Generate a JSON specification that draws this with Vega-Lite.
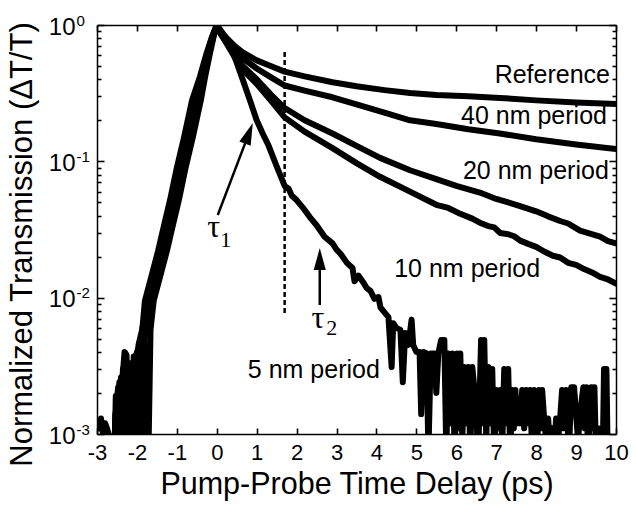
{
  "$schema": "https://vega.github.io/schema/vega-lite/v6.json",
  "width": 519,
  "height": 409,
  "autosize": {"type": "none"},
  "padding": {"left": 97, "top": 25, "right": 20, "bottom": 72},
  "background": "white",
  "config": {
    "view": {"stroke": null},
    "font": "Liberation Sans",
    "axis": {
      "grid": false,
      "domainColor": "black",
      "domainWidth": 1.5,
      "tickColor": "black",
      "tickWidth": 1.6,
      "labelColor": "black",
      "titleColor": "black",
      "labelFont": "Liberation Sans",
      "titleFont": "Liberation Sans",
      "titleFontWeight": "normal",
      "labelOverlap": false,
      "labelBound": false,
      "labelFlush": false
    }
  },
  "datasets": {
    "curves": [
      {"s": "ref", "t": -2.45, "v": 0.0006}, {"s": "ref", "t": -2.4, "v": 0.0019}, {"s": "ref", "t": -2.34, "v": 0.0009}, {"s": "ref", "t": -2.3, "v": 0.0028}, {"s": "ref", "t": -2.25, "v": 0.0012}, {"s": "ref", "t": -2.18, "v": 0.003}, {"s": "ref", "t": -2.12, "v": 0.0008}, {"s": "ref", "t": -2.06, "v": 0.0034}, {"s": "ref", "t": -2.0, "v": 0.004}, {"s": "ref", "t": -1.94, "v": 0.001}, {"s": "ref", "t": -1.88, "v": 0.0046}, {"s": "ref", "t": -1.82, "v": 0.0055}, {"s": "ref", "t": -1.76, "v": 0.0006}, {"s": "ref", "t": -1.72, "v": 0.0005}, {"s": "ref", "t": -1.66, "v": 0.0058},
      {"s": "ref", "t": -1.58, "v": 0.0095}, {"s": "ref", "t": -1.4, "v": 0.015}, {"s": "ref", "t": -1.25, "v": 0.022}, {"s": "ref", "t": -1.1, "v": 0.034}, {"s": "ref", "t": -0.95, "v": 0.052}, {"s": "ref", "t": -0.78, "v": 0.09}, {"s": "ref", "t": -0.6, "v": 0.15}, {"s": "ref", "t": -0.4, "v": 0.28}, {"s": "ref", "t": -0.29, "v": 0.42}, {"s": "ref", "t": -0.18, "v": 0.6}, {"s": "ref", "t": -0.08, "v": 0.82}, {"s": "ref", "t": 0, "v": 1.0},
      {"s": "ref", "t": 0.1, "v": 0.9}, {"s": "ref", "t": 0.25, "v": 0.8}, {"s": "ref", "t": 0.45, "v": 0.7}, {"s": "ref", "t": 0.65, "v": 0.63}, {"s": "ref", "t": 1.0, "v": 0.55}, {"s": "ref", "t": 1.35, "v": 0.5}, {"s": "ref", "t": 1.7, "v": 0.455}, {"s": "ref", "t": 2.2, "v": 0.42}, {"s": "ref", "t": 2.9, "v": 0.38}, {"s": "ref", "t": 3.5, "v": 0.355}, {"s": "ref", "t": 4.2, "v": 0.333}, {"s": "ref", "t": 4.84, "v": 0.317}, {"s": "ref", "t": 5.5, "v": 0.307}, {"s": "ref", "t": 6.3, "v": 0.3}, {"s": "ref", "t": 7.09, "v": 0.292}, {"s": "ref", "t": 8.0, "v": 0.28}, {"s": "ref", "t": 9.0, "v": 0.27}, {"s": "ref", "t": 10.0, "v": 0.263},

      {"s": "p40", "t": -2.58, "v": 0.0005}, {"s": "p40", "t": -2.54, "v": 0.0014}, {"s": "p40", "t": -2.5, "v": 0.0008}, {"s": "p40", "t": -2.46, "v": 0.002}, {"s": "p40", "t": -2.41, "v": 0.0011}, {"s": "p40", "t": -2.37, "v": 0.0024}, {"s": "p40", "t": -2.33, "v": 0.0009}, {"s": "p40", "t": -2.28, "v": 0.0036}, {"s": "p40", "t": -2.24, "v": 0.0018}, {"s": "p40", "t": -2.19, "v": 0.0029}, {"s": "p40", "t": -2.14, "v": 0.0012}, {"s": "p40", "t": -2.09, "v": 0.0028}, {"s": "p40", "t": -2.04, "v": 0.0011}, {"s": "p40", "t": -1.99, "v": 0.0036}, {"s": "p40", "t": -1.95, "v": 0.0016},
      {"s": "p40", "t": -1.85, "v": 0.0045}, {"s": "p40", "t": -1.75, "v": 0.006}, {"s": "p40", "t": -1.63, "v": 0.0095}, {"s": "p40", "t": -1.45, "v": 0.015}, {"s": "p40", "t": -1.3, "v": 0.022}, {"s": "p40", "t": -1.15, "v": 0.034}, {"s": "p40", "t": -1.0, "v": 0.052}, {"s": "p40", "t": -0.83, "v": 0.09}, {"s": "p40", "t": -0.65, "v": 0.15}, {"s": "p40", "t": -0.45, "v": 0.28}, {"s": "p40", "t": -0.32, "v": 0.42}, {"s": "p40", "t": -0.2, "v": 0.6}, {"s": "p40", "t": -0.09, "v": 0.82}, {"s": "p40", "t": 0, "v": 1.0},
      {"s": "p40", "t": 0.1, "v": 0.88}, {"s": "p40", "t": 0.25, "v": 0.78}, {"s": "p40", "t": 0.45, "v": 0.66}, {"s": "p40", "t": 0.65, "v": 0.57}, {"s": "p40", "t": 1.0, "v": 0.48}, {"s": "p40", "t": 1.35, "v": 0.415}, {"s": "p40", "t": 1.7, "v": 0.36}, {"s": "p40", "t": 2.2, "v": 0.33}, {"s": "p40", "t": 2.9, "v": 0.295}, {"s": "p40", "t": 3.5, "v": 0.262}, {"s": "p40", "t": 4.2, "v": 0.228}, {"s": "p40", "t": 4.84, "v": 0.2}, {"s": "p40", "t": 5.5, "v": 0.188}, {"s": "p40", "t": 6.3, "v": 0.172}, {"s": "p40", "t": 7.09, "v": 0.16}, {"s": "p40", "t": 8.0, "v": 0.145}, {"s": "p40", "t": 9.0, "v": 0.133}, {"s": "p40", "t": 10.0, "v": 0.123},

      {"s": "p20", "t": -2.56, "v": 0.0006}, {"s": "p20", "t": -2.53, "v": 0.0019}, {"s": "p20", "t": -2.49, "v": 0.0012}, {"s": "p20", "t": -2.44, "v": 0.0024}, {"s": "p20", "t": -2.39, "v": 0.0014}, {"s": "p20", "t": -2.35, "v": 0.003}, {"s": "p20", "t": -2.3, "v": 0.0016}, {"s": "p20", "t": -2.25, "v": 0.0032}, {"s": "p20", "t": -2.2, "v": 0.0014}, {"s": "p20", "t": -2.15, "v": 0.0028}, {"s": "p20", "t": -2.1, "v": 0.0016}, {"s": "p20", "t": -2.05, "v": 0.0035}, {"s": "p20", "t": -2.0, "v": 0.0025}, {"s": "p20", "t": -1.95, "v": 0.004},
      {"s": "p20", "t": -1.9, "v": 0.0045}, {"s": "p20", "t": -1.8, "v": 0.006}, {"s": "p20", "t": -1.68, "v": 0.0095}, {"s": "p20", "t": -1.5, "v": 0.015}, {"s": "p20", "t": -1.35, "v": 0.022}, {"s": "p20", "t": -1.2, "v": 0.034}, {"s": "p20", "t": -1.05, "v": 0.052}, {"s": "p20", "t": -0.88, "v": 0.09}, {"s": "p20", "t": -0.7, "v": 0.15}, {"s": "p20", "t": -0.5, "v": 0.28}, {"s": "p20", "t": -0.35, "v": 0.42}, {"s": "p20", "t": -0.22, "v": 0.6}, {"s": "p20", "t": -0.1, "v": 0.82}, {"s": "p20", "t": 0, "v": 1.0},
      {"s": "p20", "t": 0.1, "v": 0.86}, {"s": "p20", "t": 0.25, "v": 0.74}, {"s": "p20", "t": 0.45, "v": 0.6}, {"s": "p20", "t": 0.65, "v": 0.5}, {"s": "p20", "t": 1.0, "v": 0.4}, {"s": "p20", "t": 1.35, "v": 0.31}, {"s": "p20", "t": 1.7, "v": 0.246}, {"s": "p20", "t": 2.2, "v": 0.2}, {"s": "p20", "t": 2.9, "v": 0.16}, {"s": "p20", "t": 3.5, "v": 0.13}, {"s": "p20", "t": 4.09, "v": 0.106}, {"s": "p20", "t": 4.84, "v": 0.086}, {"s": "p20", "t": 5.5, "v": 0.074}, {"s": "p20", "t": 6.0, "v": 0.066}, {"s": "p20", "t": 6.59, "v": 0.059}, {"s": "p20", "t": 7.0, "v": 0.053}, {"s": "p20", "t": 7.5, "v": 0.048}, {"s": "p20", "t": 8.0, "v": 0.043}, {"s": "p20", "t": 8.3, "v": 0.0395}, {"s": "p20", "t": 8.6, "v": 0.0365}, {"s": "p20", "t": 8.8, "v": 0.035}, {"s": "p20", "t": 9.1, "v": 0.031}, {"s": "p20", "t": 9.35, "v": 0.0295}, {"s": "p20", "t": 9.6, "v": 0.028}, {"s": "p20", "t": 9.8, "v": 0.026}, {"s": "p20", "t": 10.0, "v": 0.025},

      {"s": "p10", "t": -2.5, "v": 0.0005}, {"s": "p10", "t": -2.45, "v": 0.0015}, {"s": "p10", "t": -2.4, "v": 0.0026}, {"s": "p10", "t": -2.36, "v": 0.0012}, {"s": "p10", "t": -2.3, "v": 0.0034}, {"s": "p10", "t": -2.24, "v": 0.0022}, {"s": "p10", "t": -2.18, "v": 0.0033}, {"s": "p10", "t": -2.13, "v": 0.0018}, {"s": "p10", "t": -2.08, "v": 0.0037}, {"s": "p10", "t": -2.03, "v": 0.0022},
      {"s": "p10", "t": -1.96, "v": 0.0045}, {"s": "p10", "t": -1.86, "v": 0.006}, {"s": "p10", "t": -1.74, "v": 0.0095}, {"s": "p10", "t": -1.56, "v": 0.015}, {"s": "p10", "t": -1.41, "v": 0.022}, {"s": "p10", "t": -1.26, "v": 0.034}, {"s": "p10", "t": -1.11, "v": 0.052}, {"s": "p10", "t": -0.94, "v": 0.09}, {"s": "p10", "t": -0.76, "v": 0.15}, {"s": "p10", "t": -0.56, "v": 0.28}, {"s": "p10", "t": -0.39, "v": 0.42}, {"s": "p10", "t": -0.24, "v": 0.6}, {"s": "p10", "t": -0.11, "v": 0.82}, {"s": "p10", "t": 0, "v": 1.0},
      {"s": "p10", "t": 0.1, "v": 0.86}, {"s": "p10", "t": 0.25, "v": 0.73}, {"s": "p10", "t": 0.45, "v": 0.58}, {"s": "p10", "t": 0.65, "v": 0.47}, {"s": "p10", "t": 1.0, "v": 0.37}, {"s": "p10", "t": 1.35, "v": 0.28}, {"s": "p10", "t": 1.7, "v": 0.21}, {"s": "p10", "t": 2.2, "v": 0.165}, {"s": "p10", "t": 2.9, "v": 0.125}, {"s": "p10", "t": 3.5, "v": 0.097}, {"s": "p10", "t": 4.09, "v": 0.077}, {"s": "p10", "t": 4.84, "v": 0.06}, {"s": "p10", "t": 5.5, "v": 0.048}, {"s": "p10", "t": 5.8, "v": 0.0455}, {"s": "p10", "t": 6.1, "v": 0.0412}, {"s": "p10", "t": 6.4, "v": 0.038}, {"s": "p10", "t": 6.59, "v": 0.0355}, {"s": "p10", "t": 6.8, "v": 0.0335}, {"s": "p10", "t": 6.95, "v": 0.0328}, {"s": "p10", "t": 7.1, "v": 0.0298}, {"s": "p10", "t": 7.3, "v": 0.0292}, {"s": "p10", "t": 7.45, "v": 0.0282}, {"s": "p10", "t": 7.6, "v": 0.0262}, {"s": "p10", "t": 7.8, "v": 0.0248}, {"s": "p10", "t": 8.0, "v": 0.0236}, {"s": "p10", "t": 8.2, "v": 0.0218}, {"s": "p10", "t": 8.42, "v": 0.0203}, {"s": "p10", "t": 8.6, "v": 0.0197}, {"s": "p10", "t": 8.8, "v": 0.018}, {"s": "p10", "t": 9.0, "v": 0.0174}, {"s": "p10", "t": 9.2, "v": 0.0162}, {"s": "p10", "t": 9.4, "v": 0.0153}, {"s": "p10", "t": 9.6, "v": 0.0142}, {"s": "p10", "t": 9.8, "v": 0.0136}, {"s": "p10", "t": 10.0, "v": 0.0127},

      {"s": "p5", "t": -3.0, "v": 0.0012}, {"s": "p5", "t": -2.95, "v": 0.0011}, {"s": "p5", "t": -2.9, "v": 0.0013}, {"s": "p5", "t": -2.85, "v": 0.001}, {"s": "p5", "t": -2.8, "v": 0.0012}, {"s": "p5", "t": -2.75, "v": 0.0011}, {"s": "p5", "t": -2.71, "v": 0.001}, {"s": "p5", "t": -2.68, "v": 0.0005}, {"s": "p5", "t": -2.6, "v": 0.0005}, {"s": "p5", "t": -2.56, "v": 0.0009}, {"s": "p5", "t": -2.52, "v": 0.0016}, {"s": "p5", "t": -2.47, "v": 0.0022}, {"s": "p5", "t": -2.42, "v": 0.0007}, {"s": "p5", "t": -2.36, "v": 0.0026}, {"s": "p5", "t": -2.31, "v": 0.004}, {"s": "p5", "t": -2.26, "v": 0.0038}, {"s": "p5", "t": -2.22, "v": 0.0006}, {"s": "p5", "t": -2.17, "v": 0.0026}, {"s": "p5", "t": -2.12, "v": 0.0007}, {"s": "p5", "t": -2.07, "v": 0.0033}, {"s": "p5", "t": -2.02, "v": 0.0008}, {"s": "p5", "t": -1.97, "v": 0.0042}, {"s": "p5", "t": -1.92, "v": 0.0007}, {"s": "p5", "t": -1.88, "v": 0.0052},
      {"s": "p5", "t": -1.8, "v": 0.0095}, {"s": "p5", "t": -1.62, "v": 0.015}, {"s": "p5", "t": -1.47, "v": 0.022}, {"s": "p5", "t": -1.32, "v": 0.034}, {"s": "p5", "t": -1.17, "v": 0.052}, {"s": "p5", "t": -1.0, "v": 0.09}, {"s": "p5", "t": -0.82, "v": 0.15}, {"s": "p5", "t": -0.62, "v": 0.28}, {"s": "p5", "t": -0.42, "v": 0.42}, {"s": "p5", "t": -0.27, "v": 0.6}, {"s": "p5", "t": -0.12, "v": 0.82}, {"s": "p5", "t": 0, "v": 1.0},
      {"s": "p5", "t": 0.15, "v": 0.87}, {"s": "p5", "t": 0.33, "v": 0.72}, {"s": "p5", "t": 0.5, "v": 0.53}, {"s": "p5", "t": 0.66, "v": 0.39}, {"s": "p5", "t": 0.85, "v": 0.27}, {"s": "p5", "t": 1.0, "v": 0.2}, {"s": "p5", "t": 1.15, "v": 0.16}, {"s": "p5", "t": 1.3, "v": 0.13}, {"s": "p5", "t": 1.5, "v": 0.092}, {"s": "p5", "t": 1.7, "v": 0.066}, {"s": "p5", "t": 1.8, "v": 0.063}, {"s": "p5", "t": 1.88, "v": 0.056}, {"s": "p5", "t": 2.0, "v": 0.052}, {"s": "p5", "t": 2.15, "v": 0.046}, {"s": "p5", "t": 2.33, "v": 0.039}, {"s": "p5", "t": 2.5, "v": 0.034}, {"s": "p5", "t": 2.7, "v": 0.028}, {"s": "p5", "t": 2.9, "v": 0.025}, {"s": "p5", "t": 3.0, "v": 0.0225}, {"s": "p5", "t": 3.1, "v": 0.021}, {"s": "p5", "t": 3.26, "v": 0.018}, {"s": "p5", "t": 3.4, "v": 0.0165}, {"s": "p5", "t": 3.45, "v": 0.0132}, {"s": "p5", "t": 3.55, "v": 0.0145}, {"s": "p5", "t": 3.68, "v": 0.0128}, {"s": "p5", "t": 3.75, "v": 0.0118}, {"s": "p5", "t": 3.85, "v": 0.0112}, {"s": "p5", "t": 3.95, "v": 0.0098}, {"s": "p5", "t": 4.05, "v": 0.0101}, {"s": "p5", "t": 4.1, "v": 0.0085},
      {"s": "p5", "t": 4.2, "v": 0.0078}, {"s": "p5", "t": 4.3, "v": 0.0072}, {"s": "p5", "t": 4.38, "v": 0.0031}, {"s": "p5", "t": 4.42, "v": 0.0065}, {"s": "p5", "t": 4.5, "v": 0.006}, {"s": "p5", "t": 4.6, "v": 0.0058}, {"s": "p5", "t": 4.66, "v": 0.0024}, {"s": "p5", "t": 4.72, "v": 0.0055}, {"s": "p5", "t": 4.8, "v": 0.0045}, {"s": "p5", "t": 4.88, "v": 0.0069}, {"s": "p5", "t": 4.92, "v": 0.0045}, {"s": "p5", "t": 5.0, "v": 0.004}, {"s": "p5", "t": 5.08, "v": 0.004}, {"s": "p5", "t": 5.12, "v": 0.0014}, {"s": "p5", "t": 5.18, "v": 0.004}, {"s": "p5", "t": 5.26, "v": 0.0039}, {"s": "p5", "t": 5.3, "v": 0.0007}, {"s": "p5", "t": 5.36, "v": 0.0039}, {"s": "p5", "t": 5.45, "v": 0.0039}, {"s": "p5", "t": 5.5, "v": 0.002}, {"s": "p5", "t": 5.55, "v": 0.0039}, {"s": "p5", "t": 5.62, "v": 0.0049}, {"s": "p5", "t": 5.7, "v": 0.0049}, {"s": "p5", "t": 5.75, "v": 0.0007}, {"s": "p5", "t": 5.8, "v": 0.0039}, {"s": "p5", "t": 5.86, "v": 0.0012}, {"s": "p5", "t": 5.9, "v": 0.0039}, {"s": "p5", "t": 5.96, "v": 0.0007}, {"s": "p5", "t": 6.02, "v": 0.0039}, {"s": "p5", "t": 6.06, "v": 0.0011}, {"s": "p5", "t": 6.1, "v": 0.0039}, {"s": "p5", "t": 6.15, "v": 0.0009}, {"s": "p5", "t": 6.2, "v": 0.0031}, {"s": "p5", "t": 6.25, "v": 0.0012}, {"s": "p5", "t": 6.3, "v": 0.0031}, {"s": "p5", "t": 6.35, "v": 0.0007}, {"s": "p5", "t": 6.4, "v": 0.0031}, {"s": "p5", "t": 6.48, "v": 0.0018}, {"s": "p5", "t": 6.55, "v": 0.0007}, {"s": "p5", "t": 6.62, "v": 0.0049}, {"s": "p5", "t": 6.66, "v": 0.0012}, {"s": "p5", "t": 6.7, "v": 0.0049}, {"s": "p5", "t": 6.75, "v": 0.0009}, {"s": "p5", "t": 6.8, "v": 0.0031}, {"s": "p5", "t": 6.85, "v": 0.0012}, {"s": "p5", "t": 6.9, "v": 0.003}, {"s": "p5", "t": 6.95, "v": 0.0007}, {"s": "p5", "t": 7.0, "v": 0.0021}, {"s": "p5", "t": 7.05, "v": 0.0011}, {"s": "p5", "t": 7.1, "v": 0.0021}, {"s": "p5", "t": 7.15, "v": 0.0008}, {"s": "p5", "t": 7.2, "v": 0.003}, {"s": "p5", "t": 7.25, "v": 0.0012}, {"s": "p5", "t": 7.3, "v": 0.003}, {"s": "p5", "t": 7.35, "v": 0.0007}, {"s": "p5", "t": 7.4, "v": 0.0021}, {"s": "p5", "t": 7.44, "v": 0.0011}, {"s": "p5", "t": 7.48, "v": 0.0021}, {"s": "p5", "t": 7.52, "v": 0.0012}, {"s": "p5", "t": 7.6, "v": 0.0012}, {"s": "p5", "t": 7.65, "v": 0.0021}, {"s": "p5", "t": 7.7, "v": 0.0011}, {"s": "p5", "t": 7.75, "v": 0.0021}, {"s": "p5", "t": 7.8, "v": 0.0012}, {"s": "p5", "t": 7.85, "v": 0.0021}, {"s": "p5", "t": 7.9, "v": 0.0007}, {"s": "p5", "t": 7.95, "v": 0.0021}, {"s": "p5", "t": 8.02, "v": 0.0007}, {"s": "p5", "t": 8.07, "v": 0.0021}, {"s": "p5", "t": 8.11, "v": 0.0011}, {"s": "p5", "t": 8.15, "v": 0.0021}, {"s": "p5", "t": 8.2, "v": 0.0013}, {"s": "p5", "t": 8.25, "v": 0.0009}, {"s": "p5", "t": 8.3, "v": 0.0013}, {"s": "p5", "t": 8.35, "v": 0.0008}, {"s": "p5", "t": 8.4, "v": 0.0011}, {"s": "p5", "t": 8.45, "v": 0.0008}, {"s": "p5", "t": 8.5, "v": 0.0013}, {"s": "p5", "t": 8.55, "v": 0.0009}, {"s": "p5", "t": 8.6, "v": 0.0013}, {"s": "p5", "t": 8.65, "v": 0.0021}, {"s": "p5", "t": 8.7, "v": 0.0011}, {"s": "p5", "t": 8.75, "v": 0.0021}, {"s": "p5", "t": 8.82, "v": 0.0007}, {"s": "p5", "t": 8.88, "v": 0.0022}, {"s": "p5", "t": 8.95, "v": 0.0022}, {"s": "p5", "t": 9.0, "v": 0.0014}, {"s": "p5", "t": 9.05, "v": 0.0009}, {"s": "p5", "t": 9.1, "v": 0.0014}, {"s": "p5", "t": 9.18, "v": 0.0022}, {"s": "p5", "t": 9.22, "v": 0.0011}, {"s": "p5", "t": 9.26, "v": 0.0022}, {"s": "p5", "t": 9.3, "v": 0.0007}, {"s": "p5", "t": 9.38, "v": 0.0022}, {"s": "p5", "t": 9.42, "v": 0.0011}, {"s": "p5", "t": 9.46, "v": 0.0022}, {"s": "p5", "t": 9.5, "v": 0.0007}, {"s": "p5", "t": 9.55, "v": 0.0011}, {"s": "p5", "t": 9.6, "v": 0.0005}, {"s": "p5", "t": 9.66, "v": 0.0005}, {"s": "p5", "t": 9.7, "v": 0.003}, {"s": "p5", "t": 9.76, "v": 0.003}, {"s": "p5", "t": 9.8, "v": 0.0005}, {"s": "p5", "t": 10.0, "v": 0.0005}
    ],
    "dashline": [{"t": 1.7, "v1": 0.634, "v2": 0.00745}],
    "arrows": [
      {"name": "tau1", "t": 0.025, "v": 0.0404, "t2": 0.805, "v2": 0.1604},
      {"name": "tau2", "t": 2.58, "v": 0.00883, "t2": 2.58, "v2": 0.0192}
    ],
    "heads": [
      {"name": "tau1", "t": 0.805, "v": 0.1604, "a": 20.8},
      {"name": "tau2", "t": 2.58, "v": 0.0192, "a": 0}
    ],
    "labels": [
      {"label": "Reference", "t": 9.85, "v": 0.3753},
      {"label": "40 nm period", "t": 9.774, "v": 0.188},
      {"label": "20 nm period", "t": 9.82, "v": 0.074},
      {"label": "10 nm period", "t": 8.1, "v": 0.01416},
      {"label": "5 nm period", "t": 4.085, "v": 0.00257}
    ],
    "taus": [
      {"label": "τ", "t": -0.075, "v": 0.02783},
      {"label": "τ", "t": 2.531, "v": 0.005984}
    ],
    "subs": [
      {"label": "1", "t": 0.2256, "v": 0.0235},
      {"label": "2", "t": 2.882, "v": 0.005317}
    ]
  },
  "layer": [
    {
      "data": {"name": "curves"},
      "mark": {"type": "line", "color": "black", "strokeWidth": 6, "strokeJoin": "round", "strokeCap": "round", "clip": true},
      "encoding": {
        "x": {
          "field": "t", "type": "quantitative",
          "scale": {"domain": [-3, 10], "nice": false, "zero": false},
          "axis": {
            "orient": "bottom", "values": [-3, -2, -1, 0, 1, 2, 3, 4, 5, 6, 7, 8, 9, 10],
            "ticks": false, "labelPadding": 8, "labelFontSize": 22, "labelExpr": "'' + datum.value",
            "title": "Pump-Probe Time Delay (ps)", "titleFontSize": 30.5, "titleY": 59, "titleBaseline": "alphabetic"
          }
        },
        "y": {
          "field": "v", "type": "quantitative",
          "scale": {"type": "log", "domain": [0.001, 1], "nice": false},
          "axis": {
            "orient": "left", "values": [0.001, 0.01, 0.1, 1],
            "ticks": false, "labelExpr": "'10'", "labelPadding": 22, "labelFontSize": 24,
            "labelAlign": "right", "labelBaseline": "middle", "labelOffset": 2,
            "title": "Normalized Transmission (ΔT/T)", "titleFontSize": 31,
            "titleX": -75, "titleY": 219, "titleBaseline": "middle", "titleAngle": -90, "titleAlign": "center"
          }
        },
        "detail": {"field": "s"}
      }
    },
    {
      "data": {"name": "dashline"},
      "mark": {"type": "rule", "color": "black", "strokeWidth": 2.5, "strokeDash": [5, 3]},
      "encoding": {
        "x": {
          "field": "t", "type": "quantitative",
          "axis": {"orient": "top", "ticks": false, "labels": false, "title": null}
        },
        "y": {
          "field": "v1", "type": "quantitative",
          "axis": {
            "orient": "left", "values": [0.001, 0.01, 0.1, 1], "ticks": false, "domain": false,
            "labelExpr": "'' + round(log(datum.value) / LN10)", "labelPadding": 21, "labelAlign": "left",
            "labelFontSize": 15, "labelBaseline": "middle", "labelOffset": -5, "title": null
          }
        },
        "y2": {"field": "v2"}
      }
    },
    {
      "data": {"name": "arrows"},
      "mark": {"type": "rule", "color": "black", "strokeWidth": 2.5},
      "encoding": {
        "x": {
          "field": "t", "type": "quantitative",
          "axis": {"orient": "bottom", "values": [-3, -2, -1, 0, 1, 2, 3, 4, 5, 6, 7, 8, 9, 10], "offset": -6, "tickSize": 6, "domain": false, "labels": false, "title": null}
        },
        "x2": {"field": "t2"},
        "y": {
          "field": "v", "type": "quantitative",
          "axis": {
            "orient": "left", "offset": -4, "tickSize": 4,
            "values": [0.002, 0.003, 0.004, 0.005, 0.006, 0.007, 0.008, 0.009, 0.02, 0.03, 0.04, 0.05, 0.06, 0.07, 0.08, 0.09, 0.2, 0.3, 0.4, 0.5, 0.6, 0.7, 0.8, 0.9],
            "labels": false, "domain": false, "title": null
          }
        },
        "y2": {"field": "v2"}
      }
    },
    {
      "data": {"name": "heads"},
      "mark": {"type": "point", "shape": "M0,-1L0.55,1L-0.55,1Z", "filled": true, "color": "black", "opacity": 1, "size": 484},
      "encoding": {
        "x": {
          "field": "t", "type": "quantitative",
          "axis": {"orient": "top", "values": [-3, -2, -1, 0, 1, 2, 3, 4, 5, 6, 7, 8, 9, 10], "offset": -6, "tickSize": 6, "domain": false, "labels": false, "title": null}
        },
        "y": {
          "field": "v", "type": "quantitative",
          "axis": {"orient": "right", "values": [0.001, 0.01, 0.1, 1], "offset": -7, "tickSize": 7, "domain": false, "labels": false, "title": null}
        },
        "angle": {"field": "a", "type": "quantitative", "scale": null}
      }
    },
    {
      "data": {"name": "labels"},
      "mark": {"type": "text", "align": "right", "baseline": "alphabetic", "fontSize": 25, "font": "Liberation Sans", "color": "black"},
      "encoding": {
        "x": {"field": "t", "type": "quantitative", "axis": null},
        "y": {
          "field": "v", "type": "quantitative",
          "axis": {
            "orient": "right", "offset": -4, "tickSize": 4,
            "values": [0.002, 0.003, 0.004, 0.005, 0.006, 0.007, 0.008, 0.009, 0.02, 0.03, 0.04, 0.05, 0.06, 0.07, 0.08, 0.09, 0.2, 0.3, 0.4, 0.5, 0.6, 0.7, 0.8, 0.9],
            "labels": false, "domain": false, "title": null
          }
        },
        "text": {"field": "label"}
      }
    },
    {
      "data": {"name": "taus"},
      "mark": {"type": "text", "align": "center", "baseline": "alphabetic", "fontSize": 32, "font": "Liberation Serif", "color": "black"},
      "encoding": {
        "x": {"field": "t", "type": "quantitative", "axis": null},
        "y": {
          "field": "v", "type": "quantitative",
          "axis": {"orient": "right", "ticks": false, "labels": false, "title": null}
        },
        "text": {"field": "label"}
      }
    },
    {
      "data": {"name": "subs"},
      "mark": {"type": "text", "align": "center", "baseline": "alphabetic", "fontSize": 22, "font": "Liberation Serif", "color": "black"},
      "encoding": {
        "x": {"field": "t", "type": "quantitative", "axis": null},
        "y": {
          "field": "v", "type": "quantitative",
          "axis": {"orient": "left", "values": [0.001, 0.01, 0.1, 1], "offset": -7, "tickSize": 7, "domain": false, "labels": false, "title": null}
        },
        "text": {"field": "label"}
      }
    }
  ],
  "resolve": {"axis": {"x": "independent", "y": "independent"}}
}
